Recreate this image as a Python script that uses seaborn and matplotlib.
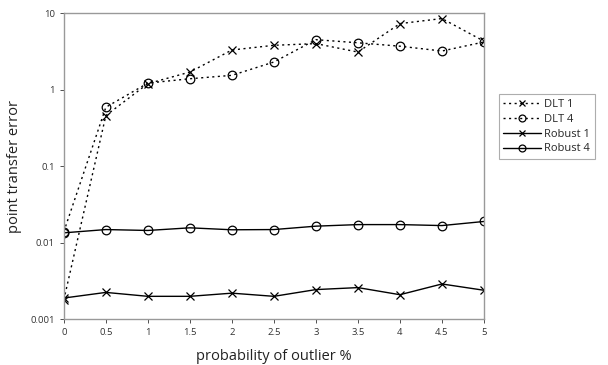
import numpy as np
import pandas as pd
import seaborn as sns
import matplotlib
matplotlib.use("Agg")
import matplotlib.pyplot as plt

prob = [0, 0.5, 1, 1.5, 2, 2.5, 3, 3.5, 4, 4.5, 5]
dlt1 = [0.0018, 0.46, 1.2, 1.7, 3.3, 3.8, 4.0, 3.1, 7.3, 8.5, 4.3]
dlt4 = [0.014, 0.59, 1.22, 1.39, 1.54, 2.3, 4.5, 4.1, 3.7, 3.2, 4.2]
robust1 = [0.0019, 0.00225, 0.002, 0.002, 0.0022, 0.002, 0.00245, 0.0026, 0.0021, 0.0029, 0.0024]
robust4 = [0.0135, 0.0149, 0.0145, 0.0157, 0.0148, 0.0149, 0.0165, 0.0173, 0.0173, 0.0168, 0.019]

sns.set_style("white")
plt.rcParams['font.family'] = ['Open Sans', 'DejaVu Sans']

fig = plt.figure(figsize=(6.08, 3.65), dpi=100)
ax = fig.add_axes([0.105, 0.125, 0.691, 0.839])

dotted = (0, (1.5, 2.5))
series = [
    ("DLT 1", dlt1, "x", dotted),
    ("DLT 4", dlt4, "o", dotted),
    ("Robust 1", robust1, "x", "-"),
    ("Robust 4", robust4, "o", "-"),
]
for name, vals, mk, ls in series:
    sns.lineplot(x=prob, y=vals, ax=ax, color="black", linestyle=ls, linewidth=1.0,
                 marker=mk, markersize=6.2, markerfacecolor="none",
                 markeredgecolor="black", markeredgewidth=0.9, label=name)

ax.set_yscale("log")
ax.set_ylim(0.001, 10)
ax.set_xlim(0, 5)
ax.set_xticks(prob)
ax.set_xticklabels([f"{p:g}" for p in prob])
ax.set_yticks([0.001, 0.01, 0.1, 1, 10])
ax.set_yticklabels(["0.001", "0.01", "0.1", "1", "10"])
ax.minorticks_off()
ax.tick_params(axis="both", labelsize=6.8, colors="#333333", length=3, width=0.6,
               direction="out", left=True, bottom=True)
for s in ax.spines.values():
    s.set_color("#999999")
    s.set_linewidth(1.0)

ax.set_xlabel("probability of outlier %", fontsize=10.5, color="#222222", labelpad=8)
ax.set_ylabel("point transfer error", fontsize=10.5, color="#222222", labelpad=6)

leg = ax.legend(loc="upper left", bbox_to_anchor=(1.035, 0.735), fontsize=8,
                frameon=True, fancybox=False, edgecolor="#999999",
                handlelength=3.4, handletextpad=0.3, borderpad=0.4,
                labelspacing=0.35, borderaxespad=0, markerscale=0.8)
leg.get_frame().set_linewidth(0.8)

fig.savefig("out.png", dpi=100)
